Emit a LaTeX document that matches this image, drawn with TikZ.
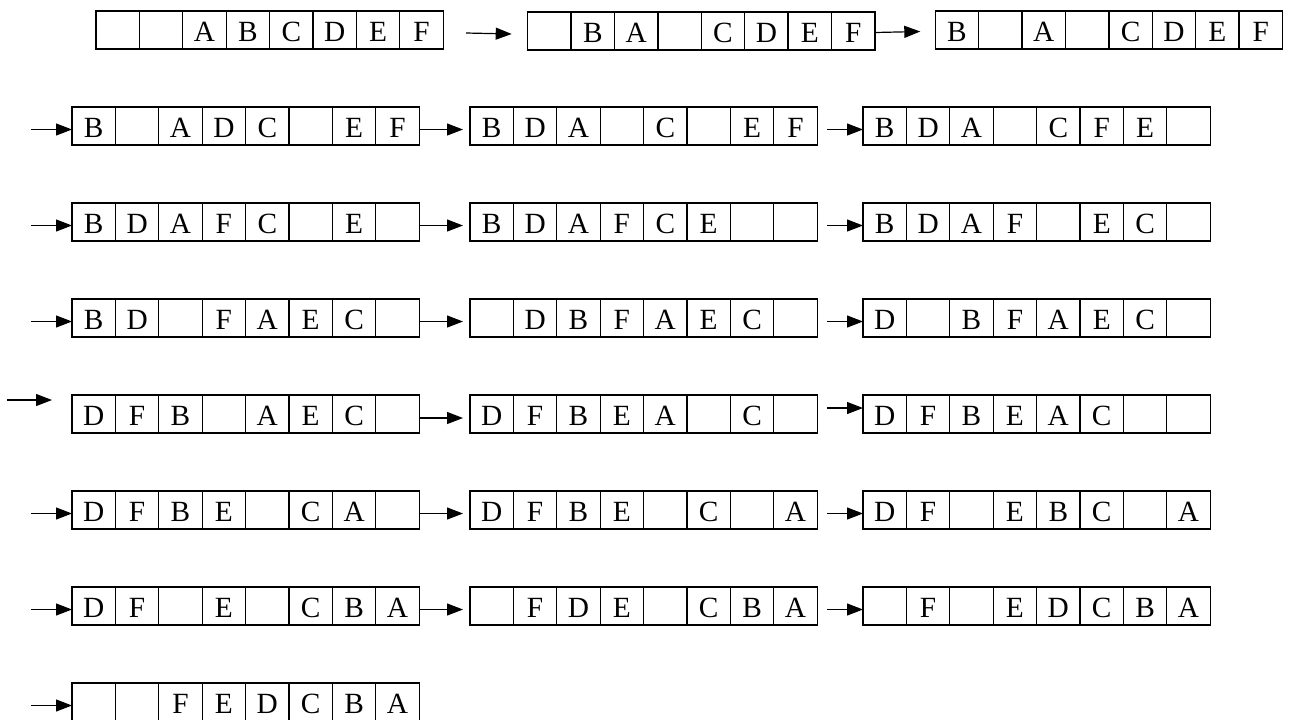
\documentclass[tikz,border=0pt]{standalone}
\usepackage{fontspec}
\setmainfont{Liberation Serif}
\usetikzlibrary{arrows.meta,calc}
\tikzset{
  cell/.style={draw, line width=1pt, minimum width=32.55pt, minimum height=28.5pt,
    inner sep=0pt, outer sep=0pt, text height=17.5pt, text depth=0pt,
    font=\fontsize{22}{22}\selectfont, anchor=north west},
  conn/.style={line width=0.9pt, -{Triangle[length=12pt,width=9pt]}}
}
\newcommand\arrrow[4]{%
  \foreach \L [count=\i from 0] in {#4} {
    \node[cell] (#1-\i) at ({#2+43.4*\i},#3) {\L};
  }%
}
\begin{document}
\begin{tikzpicture}[x=0.75pt,y=-0.75pt]
\useasboundingbox (0,0) rectangle (1293,719);
% row 1
\arrrow{r1a}{96}{11}{{},{},A,B,C,D,E,F}
\arrrow{r1b}{527.7}{12}{{},B,A,{},C,D,E,F}
\arrrow{r1c}{935.3}{11}{B,{},A,{},C,D,E,F}
\draw[conn] ($(r1a-7.east)+(23,3)$) -- ($(r1b-0.west)+(-16,3)$);
\draw[conn] ($(r1b-7.east)+(0,1.5)$) -- ($(r1c-0.west)+(-15,1.5)$);
% row 2
\arrrow{r2a}{72}{107}{B,{},A,D,C,{},E,F}
\arrrow{r2b}{470}{107}{B,D,A,{},C,{},E,F}
\arrrow{r2c}{863}{107}{B,D,A,{},C,F,E,{}}
% row 3
\arrrow{r3a}{72}{203}{B,D,A,F,C,{},E,{}}
\arrrow{r3b}{470}{203}{B,D,A,F,C,E,{},{}}
\arrrow{r3c}{863}{203}{B,D,A,F,{},E,C,{}}
% row 4
\arrrow{r4a}{72}{299}{B,D,{},F,A,E,C,{}}
\arrrow{r4b}{470}{299}{{},D,B,F,A,E,C,{}}
\arrrow{r4c}{863}{299}{D,{},B,F,A,E,C,{}}
% row 5
\arrrow{r5a}{72}{395}{D,F,B,{},A,E,C,{}}
\arrrow{r5b}{470}{395}{D,F,B,E,A,{},C,{}}
\arrrow{r5c}{863}{395}{D,F,B,E,A,C,{},{}}
% row 6
\arrrow{r6a}{72}{491}{D,F,B,E,{},C,A,{}}
\arrrow{r6b}{470}{491}{D,F,B,E,{},C,{},A}
\arrrow{r6c}{863}{491}{D,F,{},E,B,C,{},A}
% row 7
\arrrow{r7a}{72}{587}{D,F,{},E,{},C,B,A}
\arrrow{r7b}{470}{587}{{},F,D,E,{},C,B,A}
\arrrow{r7c}{863}{587}{{},F,{},E,D,C,B,A}
% row 8
\arrrow{r8a}{72}{683}{{},{},F,E,D,C,B,A}
% left arrows
\foreach \r/\y in {2/129.5,3/225.5,4/321.5,6/513.5,7/609.5,8/705.5}{
  \coordinate (s\r) at (31,\y);
  \draw[conn] (s\r) -- ($(r\r a-0.west)+(0,3.5)$);
}
\coordinate (s5) at (7,400);
\coordinate (t5) at (52,400);
\draw[conn] (s5) -- (t5);
% middle and right arrows
\foreach \r in {2,3,4,6,7}{
  \draw[conn] ($(r\r a-7.east)+(0,3.5)$) -- ($(r\r b-0.west)+(-7,3.5)$);
  \draw[conn] ($(r\r b-7.east)+(10,3.5)$) -- ($(r\r c-0.west)+(0,3.5)$);
}
\draw[conn] ($(r5a-7.east)+(0,4)$) -- ($(r5b-0.west)+(-7,4)$);
\draw[conn] ($(r5b-7.east)+(10,-6)$) -- ($(r5c-0.west)+(0,-6)$);
\end{tikzpicture}
\end{document}
